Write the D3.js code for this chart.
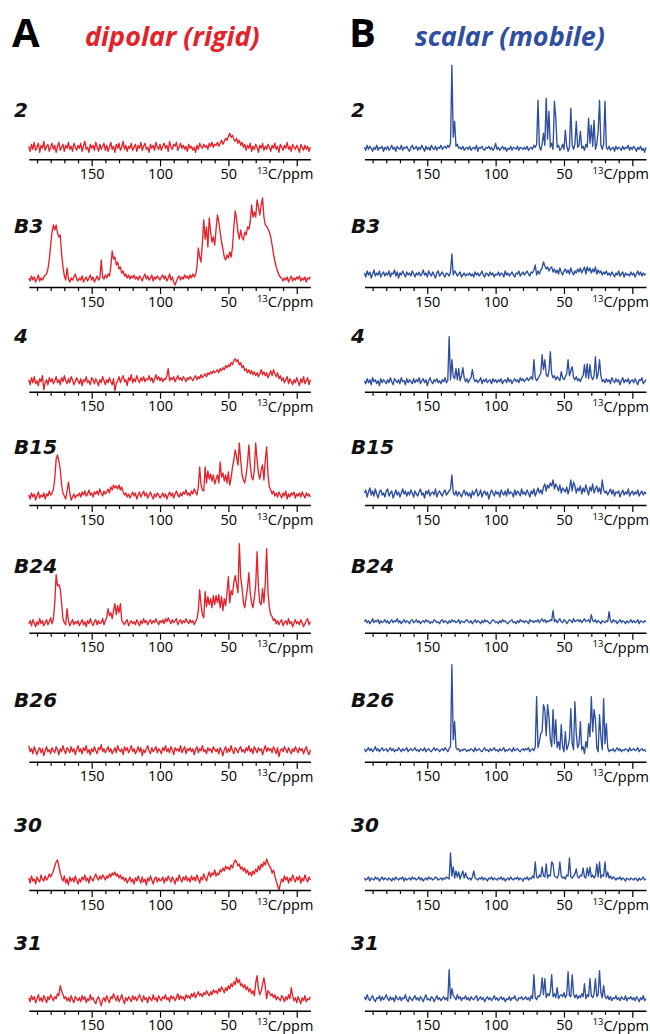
<!DOCTYPE html>
<html lang="en">
<head>
<meta charset="UTF-8">
<title>13C spectra, dipolar vs scalar</title>
<script src="https://d3js.org/d3.v7.min.js"></script>
<style>
  body { margin: 0; background: #fff; }
  svg text { font-family: 'Open Sans', sans-serif; }
</style>
</head>
<body>
<svg width="650" height="1034"></svg>
<script>
// every trace is sampled on the same grid: 196 ppm down to -10 ppm, 1 ppm apart
var ppm = d3.range(196, -11, -1);
var samples = ["2", "B3", "4", "B15", "B24", "B26", "30", "31"];
var majorTicks = [150, 100, 50, 0];
var minorTicks = [190, 180, 170, 160, 140, 130, 120, 110, 90, 80, 70, 60, 40, 30, 20, 10];

// intensities (arbitrary units), lines: 196-180, 179-160, 159-140 ... 19-0, -1..-10
var dipolar2 = [
  13,8,15,10,17,9,12,16,7,14,11,18,9,13,15,8,12,
  16,10,14,7,13,17,9,12,15,8,14,11,17,10,13,8,16,12,9,14,
  11,16,8,13,18,10,12,7,15,11,14,9,17,12,8,15,10,13,16,9,
  14,8,12,17,10,13,7,15,11,16,9,12,18,10,14,8,13,11,16,9,
  12,15,8,14,11,17,9,13,16,10,12,7,15,11,14,9,17,12,10,15,
  9,13,16,11,14,8,18,12,10,15,13,17,9,12,16,11,14,10,13,8,
  15,11,13,9,12,7,14,10,16,13,11,15,12,14,10,16,13,17,12,15,
  14,17,13,16,19,15,18,21,19,23,26,22,24,20,18,21,16,19,14,17,
  12,15,9,14,11,16,8,13,10,15,12,7,14,11,16,9,13,10,15,12,
  8,14,11,16,10,13,7,15,12,9,14,11,17,10,13,8,15,12,10,14,
  11,7,15,12,9,14,10,13,8,12
];
var dipolarB3 = [
  9,6,11,7,10,5,8,12,6,9,7,10,12,13,18,28,42,
  55,62,57,62,54,50,52,33,20,11,7,19,8,5,9,7,10,13,8,6,
  9,7,11,5,8,10,6,9,12,7,10,5,8,11,7,9,27,10,8,12,
  9,13,11,20,36,28,30,22,25,18,20,14,16,11,13,9,12,8,11,9,
  12,8,10,7,11,9,6,10,13,8,11,7,9,12,6,10,8,11,9,7,
  10,12,8,11,6,9,13,7,10,5,2,6,9,11,7,10,8,12,9,11,
  8,12,9,13,10,12,20,39,30,25,45,67,48,60,40,69,55,45,50,42,
  58,72,65,55,45,38,30,27,32,29,35,30,40,60,76,68,55,48,57,50,
  47,55,52,60,58,65,82,70,75,70,87,80,72,82,89,70,62,61,58,55,
  50,42,33,26,20,16,12,10,9,6,9,7,10,5,8,11,6,9,7,10,
  8,11,6,9,7,10,5,9,8,10
];
var dipolar4 = [
  12,7,14,9,15,8,11,6,13,10,16,2,9,12,7,14,10,
  13,8,11,15,9,12,7,14,10,16,11,8,13,9,15,12,7,10,14,11,
  8,13,6,12,10,15,9,11,7,14,12,8,13,10,6,12,9,15,11,7,
  12,9,14,10,7,13,1,8,11,15,9,13,16,10,12,6,14,11,17,9,
  13,10,16,12,9,14,11,15,10,13,12,16,11,14,9,13,17,12,15,11,
  14,10,13,12,16,23,11,14,12,15,10,13,16,12,14,11,15,13,10,14,
  12,15,13,11,14,16,12,15,13,17,14,16,18,15,19,17,20,18,21,19,
  20,22,19,23,21,24,22,26,24,27,25,29,27,31,33,30,32,27,29,24,
  26,21,23,19,22,18,21,17,20,16,19,15,18,22,17,20,16,19,14,17,
  21,16,22,18,15,19,13,16,11,14,9,12,15,8,13,10,7,12,9,14,
  10,6,13,9,15,8,11,14,7,12
];
var dipolarB15 = [
  10,6,12,8,11,5,9,13,7,10,8,12,6,11,9,14,10,
  12,16,26,46,50,44,36,20,12,9,6,14,23,12,5,8,11,7,10,9,
  12,8,13,10,14,9,11,15,10,12,8,13,11,14,10,16,12,9,14,11,
  13,16,12,18,15,20,17,19,16,20,15,18,13,10,12,8,11,7,10,13,
  9,12,6,10,13,8,11,14,9,12,7,10,13,9,6,11,8,12,10,7,
  9,12,8,11,6,10,13,9,12,7,11,14,10,8,12,9,13,11,15,10,
  12,9,14,11,16,13,10,18,38,20,15,14,38,22,34,26,31,24,30,21,
  26,30,22,43,28,32,24,30,22,33,20,27,38,45,55,48,40,62,45,30,
  25,22,30,42,60,40,28,25,35,62,45,32,26,35,40,25,45,58,30,18,
  15,11,14,9,12,8,13,10,7,12,9,14,6,11,8,12,10,13,7,11,
  9,12,8,13,10,7,12,9,11,8
];
var dipolarB24 = [
  9,12,7,13,10,6,11,8,14,9,12,7,10,13,8,11,15,
  9,14,30,58,47,48,44,30,14,10,8,24,12,7,10,13,8,11,9,12,
  7,10,13,8,11,6,12,9,14,10,7,11,13,8,12,9,10,14,8,12,
  15,24,17,20,14,22,29,18,27,20,29,12,10,8,11,13,7,10,12,9,
  11,8,13,10,7,12,9,14,10,12,8,11,13,9,12,10,14,11,8,12,
  10,13,9,14,11,15,12,9,13,10,12,14,8,11,13,9,12,10,14,11,
  9,13,10,12,8,11,14,22,43,28,18,15,41,26,36,28,34,25,37,28,
  37,30,38,25,36,22,34,27,40,56,30,42,38,50,57,48,40,89,55,45,
  30,25,35,45,60,40,30,25,35,48,81,45,30,28,44,30,50,84,40,25,
  18,16,12,14,9,12,8,11,13,7,10,12,8,14,9,11,6,10,13,9,
  11,8,13,10,6,9,12,14,8,11
];
var dipolarB26 = [
  16,10,13,8,15,11,7,12,14,9,13,6,11,15,10,12,8,
  14,11,9,15,12,7,13,10,16,11,8,14,12,9,15,10,13,7,12,16,
  10,13,8,14,11,16,9,12,7,13,10,15,11,8,14,12,17,10,13,9,
  12,15,10,13,8,11,14,9,16,12,10,13,7,15,11,14,9,12,16,10,
  13,8,11,15,10,14,6,12,9,13,16,11,8,14,10,12,15,9,13,11,
  8,14,11,16,10,13,9,15,12,7,14,11,13,10,16,9,12,15,8,13,
  11,14,10,13,7,12,15,9,13,11,16,10,12,8,14,11,13,9,15,12,
  10,13,8,14,11,6,12,15,9,13,10,16,11,8,14,12,9,13,15,10,
  12,9,14,11,16,10,13,8,15,12,9,14,11,13,7,12,16,10,14,11,
  13,9,15,12,8,14,5,11,13,10,15,12,9,14,11,8,13,10,15,12,
  9,14,11,13,8,12,15,10,7,12
];
var dipolar30 = [
  12,7,14,9,11,6,13,10,8,15,11,9,14,10,12,16,13,
  16,19,24,28,30,24,17,12,9,14,7,11,5,13,9,12,8,14,10,6,
  11,8,13,10,15,9,12,7,14,11,9,13,16,12,10,14,11,15,13,10,
  14,12,16,13,17,15,18,14,16,12,15,11,13,9,12,7,10,13,8,11,
  6,12,9,14,10,7,13,8,11,5,12,9,14,10,6,11,13,8,12,9,
  10,13,7,12,9,14,11,8,13,10,6,12,9,15,11,8,13,10,14,9,
  12,8,14,10,13,9,15,11,7,13,10,16,12,9,14,18,13,17,15,20,
  14,17,15,20,18,22,19,24,21,23,20,25,22,27,30,28,24,26,21,23,
  19,22,17,20,15,18,14,19,16,21,18,24,20,26,23,28,25,31,27,24,
  22,17,20,14,9,4,0,6,11,8,14,10,13,7,12,9,15,11,8,13,
  10,14,7,12,9,15,11,8,13,10
];
var dipolar31 = [
  13,9,15,11,14,8,12,16,10,13,9,15,12,8,14,11,16,
  13,10,14,12,17,15,25,20,16,12,14,10,13,9,15,11,8,14,12,10,
  13,9,15,11,14,8,12,10,16,11,13,9,7,12,14,10,5,11,13,9,
  15,11,8,14,12,17,13,10,15,9,12,16,11,7,13,10,14,12,9,15,
  11,14,10,13,16,12,9,15,11,13,8,14,12,10,16,11,13,9,15,12,
  10,14,12,16,11,13,9,15,12,14,10,13,17,11,15,12,14,10,16,13,
  15,12,17,14,18,13,16,19,15,17,14,18,16,20,17,15,19,16,21,18,
  20,17,22,19,24,21,18,23,20,25,22,27,24,29,26,33,28,31,25,27,
  23,26,21,24,19,22,17,20,15,28,35,22,16,20,26,33,24,12,20,18,
  15,17,13,16,11,14,12,10,15,13,9,14,11,16,12,23,15,10,13,8,
  14,11,7,13,10,15,9,12,11,14
];

var scalar2 = [
  12,9,14,10,13,11,8,12,10,14,9,12,11,13,8,12,10,
  13,9,11,14,10,12,8,13,11,10,14,9,12,11,13,10,8,12,14,10,
  11,13,9,12,10,14,11,8,13,10,12,9,14,11,10,13,9,12,11,14,
  10,12,13,11,14,12,16,94,22,38,13,15,11,12,10,13,9,11,12,10,
  13,9,11,12,10,14,8,12,11,13,10,9,12,11,13,10,12,9,11,16,
  10,12,9,11,13,10,12,8,11,10,13,9,12,11,10,13,9,12,11,10,
  12,10,13,9,11,12,10,14,12,15,59,13,9,15,26,14,61,20,48,12,
  16,10,58,41,12,14,9,11,15,10,29,13,8,12,51,14,10,15,38,12,
  14,28,11,13,9,15,12,41,16,34,13,39,10,15,28,59,14,10,15,58,
  12,10,13,9,11,12,8,13,10,12,11,9,13,10,12,11,14,9,12,10,
  13,11,8,12,10,13,9,11,7,12
];
var scalarB3 = [
  14,10,16,12,15,9,13,17,11,14,12,16,10,13,15,11,14,
  12,16,10,14,13,17,11,15,9,14,12,16,13,10,15,12,14,11,16,13,
  10,14,12,15,11,13,17,12,14,10,16,13,11,15,12,9,14,16,11,13,
  15,12,10,14,13,11,15,33,12,16,14,11,13,15,10,12,14,11,13,12,
  14,11,13,10,15,12,14,11,13,16,12,10,14,13,11,15,12,14,10,13,
  12,15,11,14,13,10,16,12,14,11,13,15,12,10,14,13,16,11,13,15,
  12,14,16,13,11,15,14,17,22,12,16,13,17,19,25,21,18,20,16,19,
  20,15,18,14,17,13,19,15,12,16,18,14,17,13,19,15,12,16,14,18,
  15,19,14,17,20,13,20,16,19,14,18,15,20,13,17,14,16,12,15,13,
  16,12,14,11,15,13,10,14,12,16,11,13,15,10,14,12,13,11,15,12,
  14,10,13,16,12,15,11,14,12,13
];
var scalar4 = [
  11,8,13,9,12,7,14,10,12,8,11,6,13,9,12,10,8,
  12,9,14,10,7,13,11,9,12,8,14,10,11,7,13,9,12,10,8,13,
  9,12,10,14,8,11,13,9,12,6,11,14,10,8,12,10,13,9,11,8,
  12,10,14,9,11,55,12,32,15,13,23,12,23,11,16,24,14,10,13,9,
  12,14,22,13,10,12,9,11,14,8,12,10,13,9,11,12,8,13,10,12,
  9,12,10,13,8,11,12,9,14,10,12,8,11,13,10,12,9,14,11,13,
  10,12,14,11,13,15,12,32,14,11,13,16,18,37,22,32,17,15,20,40,
  18,14,16,12,15,13,11,20,14,12,15,18,32,16,21,25,14,12,15,11,
  13,10,14,16,27,14,28,13,27,15,12,16,35,13,18,32,16,10,12,9,
  13,10,12,8,14,11,9,13,10,12,7,11,14,9,12,10,13,8,11,12,
  9,13,10,7,12,11,14,8,10,12
];
var scalarB15 = [
  12,15,8,13,17,10,14,9,16,11,7,13,15,10,12,8,14,
  16,9,12,14,7,11,15,10,13,8,12,16,11,14,9,13,10,15,12,8,
  14,11,9,13,16,10,12,7,14,11,15,9,12,13,10,16,8,12,14,11,
  9,13,15,10,12,14,16,30,12,10,14,9,13,11,8,12,15,10,13,9,
  12,7,14,10,13,16,9,11,15,8,12,14,10,13,6,11,15,12,9,14,
  11,13,8,15,12,10,14,9,16,11,13,12,8,15,10,14,12,9,16,11,
  13,10,15,12,8,14,11,16,9,13,17,12,15,11,18,21,14,20,17,22,
  19,25,16,21,18,14,20,12,17,15,13,18,11,16,25,14,23,19,12,17,
  14,19,11,17,13,20,15,10,18,14,21,12,16,19,13,17,11,25,15,12,
  14,10,13,16,11,15,9,13,12,14,8,12,15,10,13,11,16,9,12,14,
  10,13,11,15,9,12,14,10,13,11
];
var scalarB24 = [
  11,13,10,12,9,11,14,10,12,11,13,9,12,10,11,13,10,
  12,9,11,13,10,12,11,14,10,12,9,11,13,10,12,11,9,12,13,10,
  11,13,10,12,9,11,12,10,13,11,12,9,11,10,13,12,10,11,9,12,
  13,10,12,11,9,12,10,13,11,12,10,11,13,9,12,11,10,12,13,11,
  10,12,9,11,13,10,12,11,9,12,10,13,11,12,10,9,11,13,12,10,
  11,9,12,10,13,11,12,10,9,11,12,13,10,11,9,12,10,13,11,12,
  10,12,11,9,13,11,12,10,12,11,13,10,12,14,11,13,10,12,11,13,
  12,22,11,13,10,12,14,11,10,13,12,9,11,13,12,10,14,11,12,13,
  11,13,10,12,14,11,12,13,10,18,12,11,13,10,12,11,9,12,11,10,
  12,11,21,12,10,13,11,12,9,11,13,10,12,11,9,12,10,11,13,10,
  12,10,11,13,9,12,11,10,12,11
];
var scalarB26 = [
  13,10,12,14,11,13,10,12,15,11,13,10,12,14,11,12,13,
  10,12,14,11,13,10,12,11,14,12,10,13,11,12,14,10,12,13,11,12,
  14,11,12,10,13,12,11,14,10,12,13,11,10,12,14,11,13,12,10,12,
  13,11,14,12,10,13,15,97,22,40,14,12,13,10,12,11,13,12,10,12,
  11,13,12,10,14,11,12,13,11,10,12,14,11,12,10,13,11,12,14,11,
  12,10,13,11,12,14,10,12,11,13,12,10,14,11,12,13,11,10,12,13,
  11,13,12,14,10,12,13,11,15,65,14,20,28,30,57,52,26,57,45,22,
  15,52,18,42,14,20,12,37,15,10,30,12,16,22,53,18,12,60,28,14,
  18,40,12,15,8,20,14,38,25,65,30,52,42,14,10,47,25,12,63,18,
  38,14,10,12,11,13,10,12,14,11,13,10,12,11,13,12,10,14,11,12,
  13,11,12,14,10,12,13,11,12,10
];
var scalar30 = [
  12,10,11,13,9,12,11,10,13,11,12,9,11,13,10,12,11,
  10,12,11,9,12,10,13,11,10,12,11,13,9,12,10,11,12,10,13,11,
  12,10,11,13,10,12,9,11,12,10,13,11,12,10,11,13,12,10,11,12,
  10,12,11,13,12,11,37,14,23,12,19,13,18,11,15,19,12,17,13,11,
  12,10,13,19,12,11,10,12,11,13,10,12,11,9,12,11,13,10,12,11,
  10,12,11,13,10,12,9,11,12,10,13,11,10,12,11,13,10,12,11,9,
  12,11,13,10,12,11,14,12,28,13,12,15,13,23,14,13,26,12,15,14,
  28,26,14,13,12,15,28,14,12,13,11,15,14,32,13,12,14,16,21,13,
  12,15,14,22,13,12,22,14,23,13,15,12,14,26,13,28,12,15,14,28,
  13,18,12,14,11,13,12,10,12,11,13,10,12,11,9,12,11,10,12,11,
  10,12,11,9,12,10,11,13,10,11
];
var scalar31 = [
  14,11,16,12,10,13,15,11,9,13,12,15,10,14,11,13,16,
  12,10,14,11,13,9,15,12,11,14,10,13,12,16,11,9,14,12,10,13,
  15,11,13,10,14,12,9,13,16,11,12,10,14,13,9,12,15,11,13,10,
  12,14,11,13,10,41,12,22,15,13,11,16,12,14,10,13,12,15,11,13,
  10,14,12,11,13,15,10,12,14,11,13,9,12,14,11,13,10,12,15,11,
  13,10,12,14,11,13,9,12,11,14,10,13,12,15,11,10,13,12,14,11,
  12,14,11,13,10,15,12,36,13,11,15,14,18,33,16,32,13,17,15,19,
  36,14,17,13,23,12,15,16,14,18,13,16,39,15,14,36,17,13,16,12,
  15,13,17,14,27,12,16,14,32,15,13,17,32,14,16,40,18,13,25,14,
  12,15,11,14,10,13,12,15,11,13,10,14,12,11,15,10,13,12,14,11,
  13,10,14,12,9,13,11,15,10,12
];

var dipolar = [dipolar2, dipolarB3, dipolar4, dipolarB15, dipolarB24, dipolarB26, dipolar30, dipolar31];
var scalar = [scalar2, scalarB3, scalar4, scalarB15, scalarB24, scalarB26, scalar30, scalar31];

// ---- layout ----
var svg = d3.select("svg");
var axisY = [159.3, 287, 391.7, 505, 632.7, 761.7, 890, 1010.7];
var labelY = [117, 233, 343, 454, 573, 707, 832, 950];
var panelW = 281.6;

var panels = [
  { key: "A", title: "dipolar (rigid)", color: "#e3232b", traces: dipolar, x0: 28.8, keyX: 12, titleX: 85, labelX: 14 },
  { key: "B", title: "scalar (mobile)", color: "#2e4f9f", traces: scalar, x0: 364.4, keyX: 349, titleX: 415, labelX: 351 }
];

var y = d3.scaleLinear().domain([0, 100]).range([0, -100]);

panels.forEach(function(p) {
  var x = d3.scaleLinear().domain([196, -10]).range([p.x0, p.x0 + panelW]);

  svg.append("text")
    .attr("x", p.keyX).attr("y", 47)
    .attr("font-size", 40).attr("font-weight", 700)
    .attr("fill", "#000")
    .text(p.key);

  svg.append("text")
    .attr("x", p.titleX).attr("y", 46)
    .attr("font-size", 27).attr("font-weight", 700).attr("font-style", "italic")
    .attr("fill", p.color)
    .text(p.title);

  var line = d3.line()
    .x(function(d, i) { return x(ppm[i]); })
    .y(function(d) { return y(d); });

  samples.forEach(function(s, r) {
    svg.append("text")
      .attr("x", p.labelX).attr("y", labelY[r])
      .attr("font-size", 20).attr("font-weight", 700).attr("font-style", "italic")
      .style("font-family", "'DejaVu Sans', sans-serif")
      .attr("fill", "#111")
      .text(s);

    var g = svg.append("g").attr("transform", "translate(0," + axisY[r] + ")");

    g.append("path")
      .datum(p.traces[r])
      .attr("fill", "none")
      .attr("stroke", p.color)
      .attr("stroke-width", 1.35)
      .attr("stroke-linejoin", "round")
      .attr("d", line);

    var minor = g.append("g")
      .call(d3.axisBottom(x).tickValues(minorTicks).tickSize(4).tickSizeOuter(0).tickFormat(""));
    minor.select(".domain").remove();

    var major = g.append("g")
      .call(d3.axisBottom(x).tickValues(majorTicks).tickSize(7).tickSizeOuter(0).tickPadding(2.5)
        .tickFormat(function(d) { return d === 0 ? "" : d; }));
    major.attr("font-family", null).attr("font-size", 14.5);
    major.selectAll("text").attr("fill", "#000");

    g.selectAll(".tick line").attr("stroke", "#000").attr("stroke-width", 1.2);
    major.select(".domain").attr("stroke", "#000").attr("stroke-width", 1.5);

    var unit = g.append("text")
      .attr("x", x(-10) + 3).attr("y", 20)
      .attr("text-anchor", "end")
      .attr("font-size", 14.5)
      .attr("fill", "#000");
    unit.append("tspan").attr("font-size", 9.5).attr("dy", -5.5).text("13");
    unit.append("tspan").attr("dy", 5.5).text("C/ppm");
  });
});
</script>
</body>
</html>
